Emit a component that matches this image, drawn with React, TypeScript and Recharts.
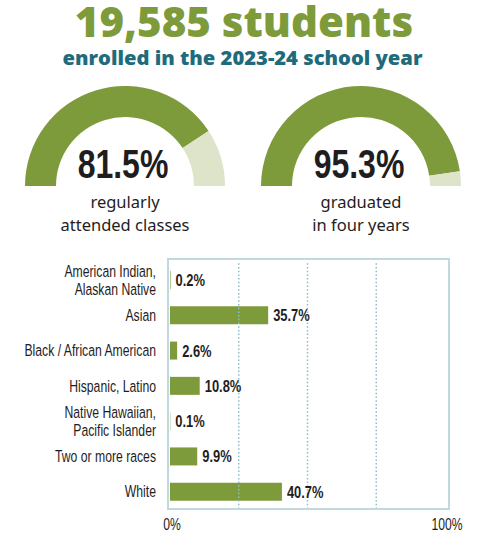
import { BarChart, Bar, XAxis, YAxis, ReferenceLine, LabelList, PieChart, Pie, Cell } from "recharts";

// headline numbers
const enrolledCount = "19,585";
const schoolYear = "2023-24";

// gauges
const attendanceRate = 81.5;
const graduationRate = 95.3;

// enrollment by race / ethnicity (percent)
const groups = [
  "American Indian,\nAlaskan Native",
  "Asian",
  "Black / African American",
  "Hispanic, Latino",
  "Native Hawaiian,\nPacific Islander",
  "Two or more races",
  "White",
];
const shares = [0.2, 35.7, 2.6, 10.8, 0.1, 9.9, 40.7];
const xTicks = [0, 100];
const gridValues = [25, 50, 75];

const GREEN = "#7e9b3c";
const PALE = "#dee4c9";
const TEAL = "#1e6b7b";
const INK = "#1f1d1e";
const FRAME = "#bfd9dd";
// Liberation Sans squeezed horizontally stands in for a condensed face
const SANS = "'Liberation Sans', Arial, sans-serif";
const HEAVY = "'Open Sans', 'Noto Sans', sans-serif";

const rows = groups.map((group, i) => ({ group, share: shares[i] }));

function Narrow({ x, y, anchor = "start", size, weight = 400, squeeze = 0.76, children }: any) {
  return (
    <text
      transform={`translate(${x},${y}) scale(${squeeze},1)`}
      textAnchor={anchor}
      fontFamily={SANS}
      fontSize={size}
      fontWeight={weight}
      fill={INK}
    >
      {children}
    </text>
  );
}

function Gauge({ value, left, top, label }: { value: number; left: number; top: number; label: string[] }) {
  const data = [
    { name: "yes", value },
    { name: "no", value: 100 - value },
  ];
  return (
    <div style={{ position: "absolute", left, top, width: 220, height: 160 }}>
      <PieChart width={220} height={104} margin={{ top: 0, right: 0, bottom: 0, left: 0 }}>
        <Pie
          data={data}
          dataKey="value"
          cx={110}
          cy={100}
          startAngle={180}
          endAngle={0}
          innerRadius={69}
          outerRadius={100}
          stroke="none"
          isAnimationActive={false}
        >
          <Cell fill={GREEN} />
          <Cell fill={PALE} />
        </Pie>
      </PieChart>
      <svg width={220} height={160} style={{ position: "absolute", left: 0, top: 0 }}>
        <Narrow x={108} y={92} anchor="middle" size={40} weight={700} squeeze={0.8}>
          {value}%
        </Narrow>
        {label.map((line, i) => (
          <text key={line} x={110} y={122 + i * 23} textAnchor="middle" fontFamily="'Noto Sans', sans-serif" fontSize={16.5} fill={INK}>
            {line}
          </text>
        ))}
      </svg>
    </div>
  );
}

function GroupTick(props: any) {
  const { x, y, payload } = props;
  const lines = String(payload.value).split("\n");
  const start = -((lines.length - 1) * 18) / 2;
  return (
    <g>
      {lines.map((line, i) => (
        <Narrow key={line} x={x - 4} y={y + start + i * 18 + 6} anchor="end" size={16.5} squeeze={0.74}>
          {line}
        </Narrow>
      ))}
    </g>
  );
}

function PercentTick(props: any) {
  const { x, y, payload } = props;
  return (
    <Narrow x={x + 2} y={y + 13} anchor="middle" size={16} squeeze={0.76}>
      {payload.value}%
    </Narrow>
  );
}

function ShareLabel(props: any) {
  const { x, y, width, height, value } = props;
  return (
    <Narrow x={x + width + 5} y={y + height / 2 + 6} size={17} weight={700} squeeze={0.76}>
      {value}%
    </Narrow>
  );
}

export default function App() {
  return (
    <div style={{ position: "absolute", left: 0, top: 0, width: 492, height: 545, background: "#fff", overflow: "hidden" }}>
      <svg width={492} height={80} style={{ position: "absolute", left: 0, top: 0 }}>
        <text x={244} y={37} textAnchor="middle" fontFamily={HEAVY} fontWeight={800} fontSize={42} fill={GREEN}>
          {enrolledCount} students
        </text>
        <text x={242.5} y={65} textAnchor="middle" fontFamily={HEAVY} fontWeight={800} fontSize={20.2} fill={TEAL}>
          enrolled in the {schoolYear} school year
        </text>
      </svg>

      <Gauge value={attendanceRate} left={14.5} top={86} label={["regularly", "attended classes"]} />
      <Gauge value={graduationRate} left={250.5} top={86} label={["graduated", "in four years"]} />

      <div style={{ position: "absolute", left: 0, top: 250 }}>
        <BarChart
          width={492}
          height={295}
          data={rows}
          layout="vertical"
          margin={{ top: 12, right: 47, bottom: 0, left: 10 }}
          barSize={18}
        >
          <XAxis
            type="number"
            domain={[0, 100]}
            ticks={xTicks}
            axisLine={false}
            tickLine={false}
            height={36}
            tick={<PercentTick />}
          />
          <YAxis
            type="category"
            dataKey="group"
            width={160}
            axisLine={false}
            tickLine={false}
            tickMargin={4}
            interval={0}
            tick={<GroupTick />}
          />
          {gridValues.map((v) => (
            <ReferenceLine key={v} x={v} stroke="#8fbdc7" strokeWidth={1.5} strokeDasharray="1.5 2.2" />
          ))}
          <Bar dataKey="share" fill={GREEN} isAnimationActive={false}>
            <LabelList dataKey="share" content={<ShareLabel />} />
          </Bar>
        </BarChart>
      </div>
      <div
        style={{
          position: "absolute",
          left: 167,
          top: 258,
          width: 279,
          height: 248,
          border: `2px solid ${FRAME}`,
          pointerEvents: "none",
        }}
      />
    </div>
  );
}
